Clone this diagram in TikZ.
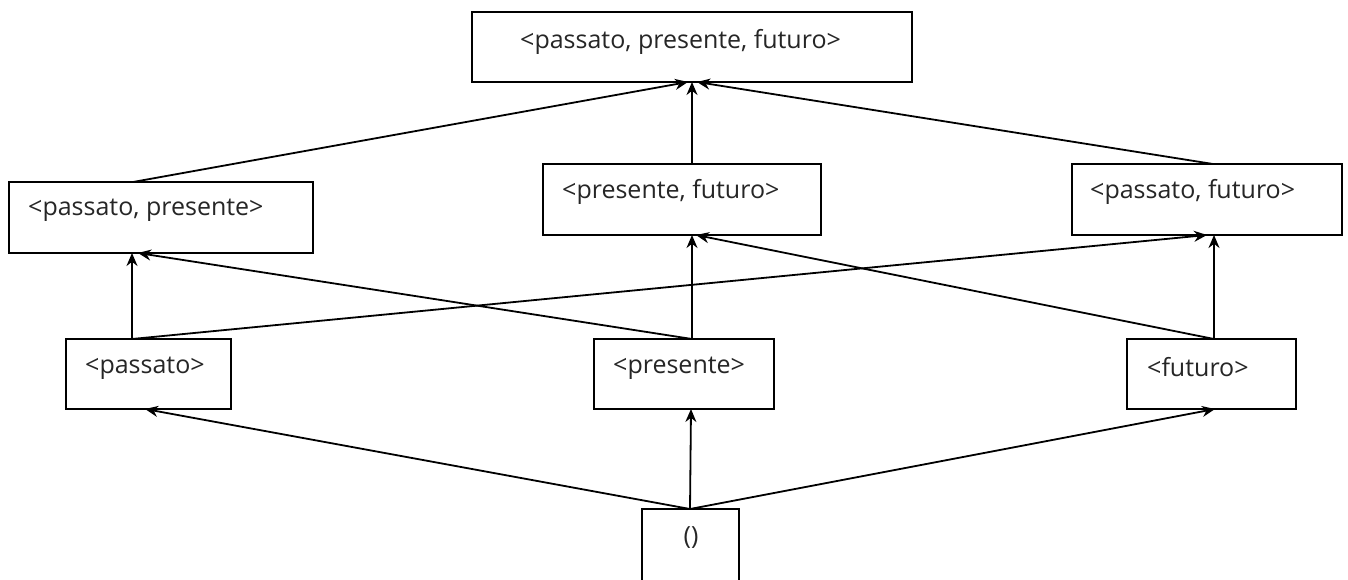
\documentclass[tikz,border=0pt]{standalone}
\usepackage{fontspec}
\setmainfont{Open Sans}
\usetikzlibrary{arrows.meta}
\begin{document}
\begin{tikzpicture}[x=1pt,y=-1pt,
  box/.style={draw=black,line width=2pt,inner sep=0pt,rectangle},
  lbl/.style={anchor=west,inner sep=0pt,font=\fontsize{25}{30}\selectfont,text=black!85},
  link/.style={line width=1.8pt,-{Stealth[length=13pt,width=11pt]}}]
\clip (0,0) rectangle (1348,579);
\fill[white] (0,0) rectangle (1348,579);
% boxes
\node[box,minimum width=440pt,minimum height=70pt] (top) at (692,47) {};
\node[box,minimum width=304pt,minimum height=71pt] (pp) at (161,217.5) {};
\node[box,minimum width=278pt,minimum height=71pt] (pf) at (682,199.5) {};
\node[box,minimum width=270pt,minimum height=71pt] (paf) at (1207,199.5) {};
\node[box,minimum width=165pt,minimum height=70pt] (pa) at (148.5,374) {};
\node[box,minimum width=180pt,minimum height=70pt] (pr) at (684,374) {};
\node[box,minimum width=169pt,minimum height=70pt] (fu) at (1211.5,374) {};
\node[box,minimum width=97pt,minimum height=90pt] (e) at (690.5,554) {};
% labels
\node[lbl] (ttop) at (520,42) {<passato, presente, futuro>};
\node[lbl] (tpp) at (28,210) {<passato, presente>};
\node[lbl] (tpf) at (562,192) {<presente, futuro>};
\node[lbl] (tpaf) at (1090,192) {<passato, futuro>};
\node[lbl] (tpa) at (85,368) {<passato>};
\node[lbl] (tpr) at (613,368) {<presente>};
\node[lbl] (tfu) at (1147,367) {<futuro>};
\node[lbl,anchor=center] (te) at (691,538) {()};
% ports
\coordinate (topL) at (688,82);
\coordinate (topM) at (692,82);
\coordinate (topR) at (697,82);
\coordinate (ppT) at (133,182);
\coordinate (pfT) at (692,164);
\coordinate (pafT) at (1213,164);
\coordinate (ppBv) at (132,253);
\coordinate (ppBd) at (138,253);
\coordinate (pfBv) at (692,235);
\coordinate (pfBd) at (696,235);
\coordinate (pafBd) at (1207,235);
\coordinate (pafBv) at (1214,235);
\coordinate (paT) at (132,339);
\coordinate (prT) at (692,339);
\coordinate (fuT) at (1214,339);
\coordinate (paB) at (145,409);
\coordinate (prB) at (691,409);
\coordinate (fuB) at (1215,409);
\coordinate (eT) at (690,509);
% connectors
\draw[link] (ppT) -- (topL);
\draw[link] (pfT) -- (topM);
\draw[link] (pafT) -- (topR);
\draw[link] (paT) -- (ppBv);
\draw[link] (paT) -- (pafBd);
\draw[link] (prT) -- (ppBd);
\draw[link] (prT) -- (pfBv);
\draw[link] (fuT) -- (pfBd);
\draw[link] (fuT) -- (pafBv);
\draw[link] (eT) -- (paB);
\draw[link] (eT) -- (prB);
\draw[link] (eT) -- (fuB);
\end{tikzpicture}
\end{document}
